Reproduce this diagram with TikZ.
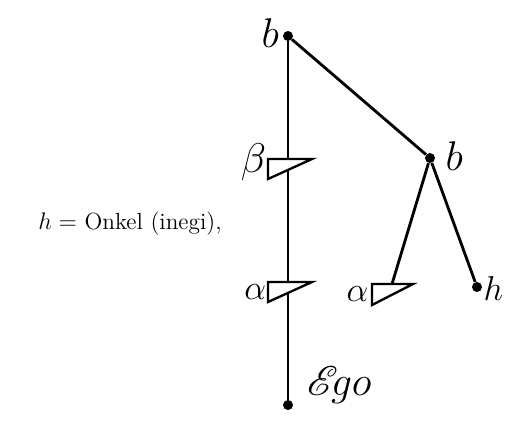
\documentclass[tikz,border=0pt]{standalone}
\usepackage{amsmath}
\usepackage{mathrsfs}
\usepackage{tikz}
\usetikzlibrary{positioning}

\begin{document}
\begin{tikzpicture}[
  x=0.6pt, y=-0.6pt,
  kin/.style={line width=1.7pt},
  dot/.style={circle, fill, inner sep=0pt, minimum size=6pt},
  flag/.style={draw, fill=white, line width=1.4pt, line join=miter},
  lbl/.style={font=\fontsize{26}{26}\selectfont, inner sep=0pt},
  slbl/.style={font=\fontsize{22}{22}\selectfont, inner sep=0pt},
  txt/.style={font=\fontsize{14}{16}\selectfont, inner sep=0pt}
]
  \useasboundingbox (0,0) rectangle (505,431);
  \node[dot] (btop)  at (288,36)  {};
  \node[dot] (bmid)  at (430,158) {};
  \node[dot] (ego)   at (288,405) {};
  \node[dot] (onkel) at (477,287) {};
  \coordinate (betaf)   at (268,159);
  \coordinate (alphaf)  at (268,282);
  \coordinate (alpharf) at (372,284);
  \coordinate (alphar)  at (392,284);

  \draw[kin] (btop) -- (ego);
  \draw[kin] (btop) -- (bmid);
  \draw[kin] (bmid) -- (alphar);
  \draw[kin] (bmid) -- (onkel);
  % flags for the ages
  \draw[flag] (betaf) -- ++(44,0) -- ++(-44,20) -- cycle;
  \draw[flag] (alphaf) -- ++(44,0) -- ++(-44,20) -- cycle;
  \draw[flag] (alpharf) -- ++(41,0) -- ++(-41,21) -- cycle;

  \node[lbl,  left=2pt of btop, yshift=2pt]          (lbtop)  {$b$};
  \node[lbl,  right=6pt of bmid, yshift=1pt]         (lbmid)  {$b$};
  \node[lbl,  left=1pt of betaf, yshift=-2pt]        (lbeta)  {$\beta$};
  \node[slbl, left=1pt of alphaf, yshift=-6pt]       (lalpha) {$\alpha$};
  \node[slbl, left=2pt of alpharf, yshift=-6pt]      (lalphr) {$\alpha$};
  \node[slbl, right=0.5pt of onkel, yshift=-1pt]     (lonkel) {$h$};
  \node[font=\fontsize{28}{28}\selectfont, inner sep=0pt,
        right=8pt of ego, yshift=12pt]               (lego)   {$\mathscr{E}\!go$};

  \node[txt, anchor=east] (def) at (222,224) {$h =$ Onkel (inegi),};
\end{tikzpicture}
\end{document}
